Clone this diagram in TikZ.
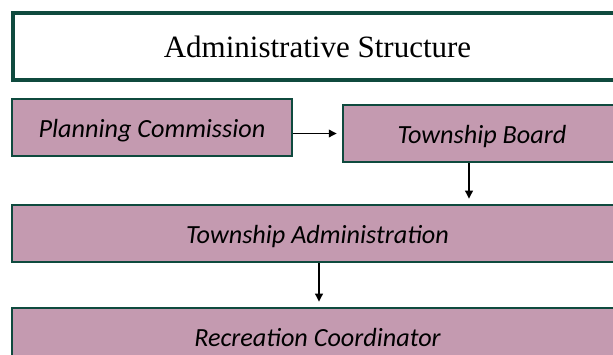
\documentclass[tikz,border=0pt]{standalone}
\usepackage{fontspec}
\setmainfont{Liberation Serif}
\newfontfamily\boxfont{Carlito}
\usetikzlibrary{arrows.meta}
\definecolor{boxgreen}{HTML}{0F4A3E}
\definecolor{boxpink}{HTML}{C49AB0}
\tikzset{
  titlebox/.style={draw=boxgreen, line width=4pt, fill=white, inner sep=0pt,
    font=\fontsize{31}{34}\selectfont},
  orgbox/.style={draw=boxgreen, line width=2.5pt, fill=boxpink, inner sep=0pt,
    minimum height=57pt, text height=19.6pt, text depth=0pt,
    font=\boxfont\itshape\fontsize{26.2}{29}\selectfont},
  conn/.style={line width=1.8pt, -{Triangle[length=8pt,width=7.5pt]}, shorten >=5pt}
}
\begin{document}
\begin{tikzpicture}[x=1pt,y=-1pt]
\useasboundingbox (0,0) rectangle (613,355);
\node[titlebox, minimum width=609pt, minimum height=67pt] (title) at (317.5,46.5) {Administrative Structure};
\node[orgbox, minimum width=280pt] (pc) at (152,127.5) {Planning Commission};
\node[orgbox, minimum width=278pt] (tb) at (482,133.5) {Township Board};
\node[orgbox, minimum width=611pt] (ta) at (317.5,233.5) {Township Administration};
\node[orgbox, minimum width=611pt] (rc) at (317.5,336.5) {Recreation Coordinator};
\draw[conn] (pc.east |- tb.west) -- (tb.west);
\draw[conn] ([xshift=-13pt]tb.south) -- ([xshift=-13pt]tb.south |- ta.north);
\draw[conn] ([xshift=1.5pt]ta.south) -- ([xshift=1.5pt]ta.south |- rc.north);
\end{tikzpicture}
\end{document}
